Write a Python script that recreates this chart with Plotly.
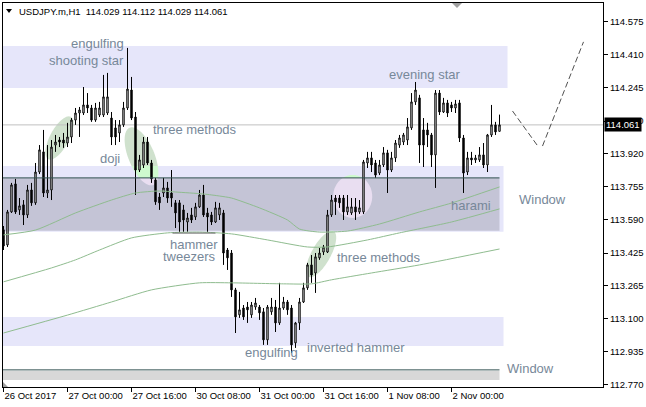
import math
import plotly.graph_objects as go

# ---------------- data ----------------
SYMBOL = "USDJPY.m,H1"
bars = list(range(125))

opens = [
    113.540, 113.465, 113.629, 113.768, 113.639, 113.664, 113.614, 113.738, 113.674, 113.827,
    113.927, 113.723, 113.738, 113.961, 113.986, 113.986, 113.971, 114.001, 114.085, 114.120,
    114.120, 114.160, 114.145, 114.085, 114.110, 114.110, 114.120, 114.095, 114.046, 114.021,
    114.061, 114.145, 114.234, 114.100, 113.837, 113.862, 113.976, 113.872, 113.788, 113.703,
    113.723, 113.748, 113.723, 113.674, 113.674, 113.639, 113.579, 113.614, 113.604, 113.654,
    113.713, 113.624, 113.614, 113.579, 113.614, 113.624, 113.440, 113.425, 113.242, 113.118,
    113.152, 113.157, 113.118, 113.157, 113.157, 113.133, 112.994, 113.133, 113.157, 113.078,
    113.152, 113.182, 113.152, 112.979, 113.078, 113.182, 113.252, 113.366, 113.326, 113.401,
    113.430, 113.430, 113.614, 113.698, 113.698, 113.698, 113.629, 113.624, 113.654, 113.629,
    113.629, 113.872, 113.897, 113.872, 113.822, 113.862, 113.922, 113.837, 113.897, 113.961,
    113.976, 113.986, 114.046, 114.175, 114.195, 114.036, 114.036, 114.011, 113.912, 114.219,
    114.125, 114.170, 114.160, 114.145, 114.170, 113.996, 113.827, 113.897, 113.887, 113.887,
    113.912, 113.862, 114.011, 114.061, 114.029]

highs = [
    113.559, 113.639, 113.773, 113.793, 113.698, 113.688, 113.763, 113.773, 113.872, 113.961,
    114.036, 113.961, 113.986, 114.011, 114.001, 114.021, 114.071, 114.095, 114.145, 114.150,
    114.249, 114.219, 114.160, 114.170, 114.175, 114.309, 114.319, 114.125, 114.085, 114.085,
    114.175, 114.443, 114.299, 114.125, 113.912, 114.001, 114.001, 113.887, 113.798, 113.723,
    113.798, 113.778, 113.837, 113.688, 113.688, 113.664, 113.624, 113.649, 113.674, 113.738,
    113.763, 113.649, 113.629, 113.679, 113.674, 113.639, 113.450, 113.440, 113.252, 113.232,
    113.167, 113.182, 113.182, 113.202, 113.167, 113.152, 113.167, 113.202, 113.192, 113.277,
    113.207, 113.192, 113.167, 113.083, 113.202, 113.277, 113.376, 113.415, 113.425, 113.450,
    113.465, 113.639, 113.713, 113.713, 113.713, 113.713, 113.713, 113.698, 113.698, 113.688,
    113.887, 113.927, 113.927, 113.887, 113.887, 113.951, 113.937, 113.927, 113.986, 114.011,
    114.021, 114.095, 114.219, 114.274, 114.210, 114.095, 114.071, 114.021, 114.234, 114.234,
    114.195, 114.185, 114.175, 114.185, 114.185, 114.011, 113.927, 113.927, 113.912, 113.951,
    113.971, 114.016, 114.160, 114.076, 114.112]

lows = [
    113.440, 113.455, 113.624, 113.619, 113.614, 113.564, 113.599, 113.659, 113.664, 113.817,
    113.703, 113.698, 113.688, 113.927, 113.951, 113.947, 113.951, 113.971, 114.061, 114.001,
    114.110, 114.120, 114.076, 114.076, 114.100, 114.100, 114.110, 113.961, 113.961, 113.976,
    114.051, 114.135, 114.085, 113.713, 113.827, 113.847, 113.862, 113.773, 113.664, 113.639,
    113.703, 113.674, 113.654, 113.549, 113.530, 113.530, 113.530, 113.574, 113.589, 113.649,
    113.604, 113.530, 113.564, 113.574, 113.589, 113.366, 113.341, 113.207, 113.028, 113.103,
    113.093, 113.078, 113.103, 113.143, 113.093, 112.969, 112.969, 113.118, 113.033, 113.068,
    113.143, 113.118, 112.929, 112.954, 113.043, 113.177, 113.242, 113.277, 113.227, 113.391,
    113.415, 113.425, 113.604, 113.614, 113.649, 113.589, 113.614, 113.614, 113.589, 113.619,
    113.619, 113.847, 113.827, 113.798, 113.812, 113.852, 113.723, 113.827, 113.877, 113.947,
    113.961, 113.961, 114.036, 114.160, 113.872, 113.852, 113.951, 113.852, 113.748, 114.110,
    114.120, 114.100, 114.125, 114.120, 113.976, 113.723, 113.812, 113.862, 113.872, 113.877,
    113.847, 113.827, 114.001, 114.011, 114.029]

closes = [
    113.460, 113.629, 113.763, 113.629, 113.659, 113.614, 113.738, 113.674, 113.827, 113.937,
    113.723, 113.738, 113.951, 113.976, 113.976, 113.971, 114.001, 114.085, 114.120, 114.135,
    114.160, 114.145, 114.085, 114.145, 114.145, 114.200, 114.200, 114.001, 114.001, 114.061,
    114.145, 114.239, 114.095, 113.837, 113.887, 113.976, 113.872, 113.793, 113.679, 113.674,
    113.748, 113.698, 113.698, 113.624, 113.579, 113.589, 113.599, 113.589, 113.654, 113.713,
    113.614, 113.604, 113.579, 113.649, 113.649, 113.425, 113.401, 113.242, 113.108, 113.143,
    113.108, 113.143, 113.167, 113.177, 113.128, 112.994, 113.157, 113.157, 113.078, 113.152,
    113.182, 113.143, 112.969, 113.078, 113.182, 113.252, 113.366, 113.316, 113.406, 113.425,
    113.455, 113.614, 113.688, 113.679, 113.674, 113.629, 113.654, 113.654, 113.629, 113.649,
    113.877, 113.897, 113.862, 113.812, 113.862, 113.922, 113.837, 113.897, 113.971, 113.996,
    114.011, 114.051, 114.175, 114.234, 113.961, 113.961, 114.011, 113.912, 114.219, 114.125,
    114.170, 114.120, 114.145, 114.165, 113.996, 113.822, 113.897, 113.887, 113.897, 113.912,
    113.862, 114.011, 114.061, 114.026, 114.061]

# moving averages (bar index, value)
ma_fast_bars = [0, 8, 18, 27, 33, 39, 43, 50, 54, 57, 64, 71, 74, 79, 86, 94, 104, 112, 124]
ma_fast_vals = [113.515, 113.539, 113.624, 113.688, 113.723, 113.733, 113.728, 113.718, 113.708,
                113.698, 113.649, 113.589, 113.544, 113.529, 113.534, 113.569, 113.629, 113.673, 113.753]
ma_mid_bars = [0, 12, 18, 24, 32, 41, 49, 57, 66, 76, 81, 91, 99, 112, 124]
ma_mid_vals = [113.282, 113.351, 113.391, 113.440, 113.500, 113.525, 113.529, 113.520, 113.490,
               113.455, 113.455, 113.490, 113.525, 113.579, 113.644]
ma_slow_bars = [0, 16, 27, 37, 49, 57, 70, 77, 82, 92, 104, 124]
ma_slow_vals = [113.028, 113.117, 113.182, 113.242, 113.277, 113.277, 113.272, 113.272, 113.292,
                113.326, 113.366, 113.445]

x_tick_bars = [0, 16, 32, 48, 64, 80, 96, 112]
x_tick_labels = ["26 Oct 2017", "27 Oct 00:00", "27 Oct 16:00", "30 Oct 08:00",
                 "31 Oct 00:00", "31 Oct 16:00", "1 Nov 08:00", "2 Nov 00:00"]
y_tick_vals = [112.770, 112.935, 113.100, 113.265, 113.425, 113.590, 113.755, 113.920,
               114.080, 114.245, 114.410, 114.575]

# zone levels (prices)
zone_top = (114.244, 114.453)
zone_mid_light = (113.530, 113.857)
zone_mid_dark = (113.535, 113.798)
zone_low = (112.964, 113.108)
zone_window = (112.795, 112.840)
window_line_hi = 113.798
window_line_lo = 112.845
tweezer_level = 113.524

# pattern labels: text, bar, price, anchor
labels = [
    ("engulfing", 30.5, 114.467, "right"),
    ("shooting star", 30.5, 114.380, "right"),
    ("three methods", 36.75, 114.040, "left"),
    ("doji", 23.5, 113.892, "left"),
    ("hammer", 54.0, 113.466, "right"),
    ("tweezers", 53.5, 113.409, "right"),
    ("three methods", 82.75, 113.405, "left"),
    ("engulfing", 59.75, 112.931, "left"),
    ("inverted hammer", 75.25, 112.956, "left"),
    ("evening star", 95.75, 114.311, "left"),
    ("harami", 111.25, 113.661, "left"),
    ("Window", 128.25, 113.693, "left"),
    ("Window", 125.25, 112.852, "left"),
]

# projection path (bar, price)
proj_a = [(127.25, 114.130), (133.75, 113.951)]
proj_b = [(134.75, 113.956), (145.0, 114.473)]

# ---------------- geometry ----------------
X_RANGE = [-0.125, 149.875]
Y_RANGE = [112.760, 114.666]
PLOT_W, PLOT_H = 600, 384
PX_BAR = PLOT_W / (X_RANGE[1] - X_RANGE[0])
PX_PRICE = PLOT_H / (Y_RANGE[1] - Y_RANGE[0])

BLACK = "#000000"
LAV = "rgb(230,230,250)"
DARK = "rgb(196,196,214)"
LINE_DARK = "#2F4F4F"
MA_COL = "#8FBC8F"
TXT = "#778899"

fig = go.Figure()

fig.add_trace(go.Candlestick(
    x=bars, open=opens, high=highs, low=lows, close=closes,
    increasing=dict(line=dict(color=BLACK, width=1), fillcolor="white"),
    decreasing=dict(line=dict(color=BLACK, width=1), fillcolor=BLACK),
    whiskerwidth=0, hoverinfo="skip"))

for bx, vals in ((ma_fast_bars, ma_fast_vals), (ma_mid_bars, ma_mid_vals), (ma_slow_bars, ma_slow_vals)):
    fig.add_trace(go.Scatter(x=bx, y=vals, mode="lines",
                             line=dict(color=MA_COL, width=1, shape="spline", smoothing=0.6),
                             hoverinfo="skip"))

shapes = []


def rect(x0, x1, y0, y1, color):
    shapes.append(dict(type="rect", xref="x", yref="y", x0=x0, x1=x1, y0=y0, y1=y1,
                       fillcolor=color, line=dict(width=0), layer="below"))


rect(-0.2, 126, zone_top[0], zone_top[1], LAV)
rect(-0.2, 125, zone_mid_light[0], zone_mid_light[1], LAV)
rect(-0.2, 124, zone_mid_dark[0], zone_mid_dark[1], DARK)
rect(-0.2, 125, zone_low[0], zone_low[1], LAV)
rect(-0.2, 124, zone_window[0], zone_window[1], "rgb(216,216,216)")


def ellipse_poly(cb, cp, a, b, ang, n=90):
    th = math.radians(ang)
    pts = []
    for k in range(n):
        t = 2 * math.pi * k / n
        ex, ey = a * math.cos(t), b * math.sin(t)
        dx = ex * math.cos(th) - ey * math.sin(th)
        dy = ex * math.sin(th) + ey * math.cos(th)
        pts.append((cb + dx / PX_BAR, cp + dy / PX_PRICE))
    return pts


def clip_half(poly, inside, level):
    out = []
    n = len(poly)
    for i in range(n):
        cur, prev = poly[i], poly[i - 1]
        if inside(cur):
            if not inside(prev):
                t = (level - prev[1]) / (cur[1] - prev[1])
                out.append((prev[0] + t * (cur[0] - prev[0]), level))
            out.append(cur)
        elif inside(prev):
            t = (level - prev[1]) / (cur[1] - prev[1])
            out.append((prev[0] + t * (cur[0] - prev[0]), level))
    return out


def clip_band(poly, lo, hi):
    p = clip_half(poly, lambda q: q[1] >= lo, lo)
    if p:
        p = clip_half(p, lambda q: q[1] <= hi, hi)
    return p


G_WHITE = "rgb(207,225,205)"
G_LAV = "rgb(206,250,206)"
G_DARK = "rgb(233,222,241)"
bands = [
    (zone_mid_light[1], 200, G_WHITE),
    (zone_mid_dark[1], zone_mid_light[1], G_LAV),
    (zone_mid_dark[0], zone_mid_dark[1], G_DARK),
    (zone_mid_light[0], zone_mid_dark[0], G_LAV),
    (0, zone_mid_light[0], G_WHITE),
]

ellipses = [
    (14.0, 113.996, 24, 9.5, 62),
    (34.5, 113.905, 31, 13, -67.5),
    (79.4, 113.420, 26, 9.5, 61),
    (87.3, 113.706, 21.5, 19.5, 90),
]
for cb, cp, a, b, ang in ellipses:
    poly = ellipse_poly(cb, cp, a, b, ang)
    for lo, hi, col in bands:
        piece = clip_band(poly, lo, hi)
        if len(piece) >= 3:
            path = "M " + " L ".join(f"{x:.4f},{y:.5f}" for x, y in piece) + " Z"
            shapes.append(dict(type="path", xref="x", yref="y", path=path,
                               fillcolor=col, line=dict(width=0), layer="below"))

# current price line
shapes.append(dict(type="line", xref="x", yref="y", x0=-0.2, x1=150, y0=closes[-1], y1=closes[-1],
                   line=dict(color="#C0C0C0", width=1), layer="below"))
# window lines
for lvl in (window_line_hi, window_line_lo):
    shapes.append(dict(type="line", xref="x", yref="y", x0=-0.2, x1=124, y0=lvl, y1=lvl,
                       line=dict(color=LINE_DARK, width=1), layer="above"))
# tweezers bottom line
shapes.append(dict(type="line", xref="x", yref="y", x0=42.25, x1=53, y0=tweezer_level, y1=tweezer_level,
                   line=dict(color="#666666", width=1), layer="above"))
# projection
for seg in (proj_a, proj_b):
    shapes.append(dict(type="line", xref="x", yref="y", x0=seg[0][0], y0=seg[0][1],
                       x1=seg[1][0], y1=seg[1][1],
                       line=dict(color="#505050", width=1, dash="6px,3px"), layer="above"))


def pxp(px, py):
    return ((px - 3) / 600, (387 - py) / 384)


# header triangle
a1, a2, a3 = pxp(6, 9), pxp(12, 9), pxp(9, 13)
shapes.append(dict(type="path", xref="paper", yref="paper",
                   path=f"M {a1[0]},{a1[1]} L {a2[0]},{a2[1]} L {a3[0]},{a3[1]} Z",
                   fillcolor=BLACK, line=dict(width=0)))
# chart shift marker
a1, a2, a3 = pxp(452, 3), pxp(462, 3), pxp(457, 8)
shapes.append(dict(type="path", xref="paper", yref="paper",
                   path=f"M {a1[0]},{a1[1]} L {a2[0]},{a2[1]} L {a3[0]},{a3[1]} Z",
                   fillcolor="#A0A0A0", line=dict(width=0)))
# scale fix marker
a1, a2, a3 = pxp(3, 382), pxp(3, 387), pxp(8, 387)
shapes.append(dict(type="path", xref="paper", yref="paper",
                   path=f"M {a1[0]},{a1[1]} L {a2[0]},{a2[1]} L {a3[0]},{a3[1]} Z",
                   fillcolor="#A0A0A0", line=dict(width=0)))

annotations = []
for text, bx, py, anc in labels:
    annotations.append(dict(x=bx, y=py, xref="x", yref="y", text=text, showarrow=False,
                            xanchor=anc, yanchor="middle",
                            font=dict(family="Liberation Sans", size=13, color=TXT)))

hx, hy = pxp(17, 11)
header = f"{SYMBOL}  {opens[-1]:.3f} {highs[-1]:.3f} {lows[-1]:.3f} {closes[-1]:.3f}"
annotations.append(dict(x=hx, y=hy, xref="paper", yref="paper", text=header, showarrow=False,
                        xanchor="left", yanchor="middle",
                        font=dict(family="Liberation Sans", size=9.5, color=BLACK)))
annotations.append(dict(x=1, y=closes[-1], xref="paper", yref="y", text=f"{closes[-1]:.3f}",
                        showarrow=False, xanchor="left", yanchor="middle", xshift=1,
                        bgcolor=BLACK, borderpad=1,
                        font=dict(family="Liberation Sans", size=9.5, color="white")))

fig.update_layout(
    width=646, height=407,
    margin=dict(l=3, r=43, t=3, b=20, autoexpand=False),
    paper_bgcolor="white", plot_bgcolor="white",
    showlegend=False, boxgap=0.5,
    shapes=shapes, annotations=annotations,
    xaxis=dict(range=X_RANGE, showgrid=False, zeroline=False, rangeslider=dict(visible=False),
               showline=True, linecolor=BLACK, linewidth=1, mirror=True, automargin=False,
               tickmode="array", tickvals=x_tick_bars, ticktext=x_tick_labels,
               ticks="outside", ticklen=4, tickcolor=BLACK, ticklabelposition="outside right",
               tickfont=dict(family="Liberation Sans", size=9.5, color=BLACK)),
    yaxis=dict(range=Y_RANGE, side="right", showgrid=False, zeroline=False,
               showline=True, linecolor=BLACK, linewidth=1, mirror=True, automargin=False,
               tickmode="array", tickvals=y_tick_vals, ticktext=[f"{v:.3f}" for v in y_tick_vals],
               ticks="outside", ticklen=4, tickcolor=BLACK,
               tickfont=dict(family="Liberation Sans", size=9.5, color=BLACK)),
)

fig.write_html("out.html", config={"displayModeBar": False},
               post_script="document.body.style.margin='0';document.body.style.padding='0';")
